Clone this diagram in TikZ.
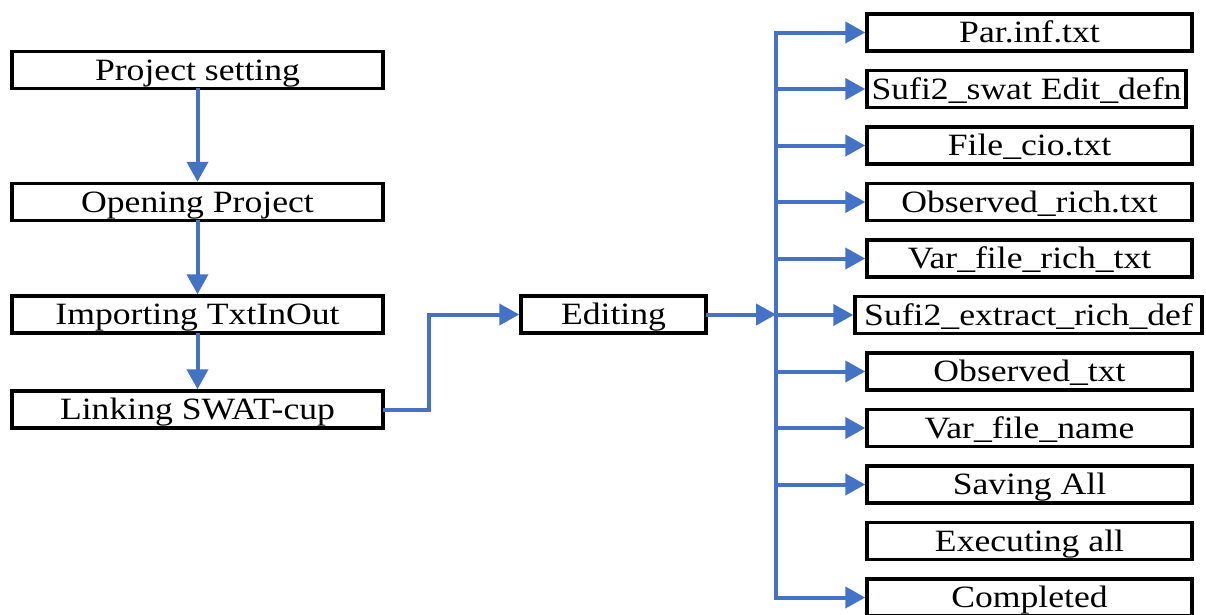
\documentclass[tikz,border=0pt]{standalone}
\usepackage{fontspec}
\setmainfont{Liberation Serif}[FakeStretch=1.15]
\usetikzlibrary{arrows.meta}
\definecolor{flowblue}{RGB}{68,114,196}
\begin{document}
\begin{tikzpicture}[x=1pt,y=-1pt,
  box/.style={draw=black,line width=3.5pt,fill=white,inner sep=0pt,minimum height=37pt,
    text height=24pt,text depth=4pt,
    font=\fontsize{31}{36}\selectfont},
  conn/.style={draw=flowblue,line width=4pt,line cap=rect},
  arr/.style={conn,-{Triangle[length=20pt,width=21pt]}}]
\useasboundingbox (0,0) rectangle (1206,614);
% left column
\node[box,minimum width=371pt] (ps) at (197.5,70) {Project setting};
\node[box,minimum width=371pt] (op) at (197.5,202) {Opening Project};
\node[box,minimum width=371pt] (im) at (197.5,314.5) {Importing TxtInOut};
\node[box,minimum width=371pt] (ln) at (197.5,409.5) {Linking SWAT-cup};
% editing
\node[box,minimum width=185pt] (ed) at (613.5,314.5) {Editing};
% right column
\node[box,minimum width=325pt] (r1) at (1029.5,32.5) {Par.inf.txt};
\node[box,minimum width=319pt] (r2) at (1026.5,89) {Sufi2\_swat Edit\_defn};
\node[box,minimum width=325pt] (r3) at (1029.5,145.5) {File\_cio.txt};
\node[box,minimum width=325pt] (r4) at (1029.5,202) {Observed\_rich.txt};
\node[box,minimum width=325pt] (r5) at (1029.5,258.5) {Var\_file\_rich\_txt};
\node[box,minimum width=347pt] (r6) at (1028.5,315) {Sufi2\_extract\_rich\_def};
\node[box,minimum width=325pt] (r7) at (1029.5,371.5) {Observed\_txt};
\node[box,minimum width=325pt] (r8) at (1029.5,428) {Var\_file\_name};
\node[box,minimum width=325pt] (r9) at (1029.5,484.5) {Saving All};
\node[box,minimum width=325pt] (r10) at (1029.5,541) {Executing all};
\node[box,minimum width=325pt] (r11) at (1029.5,597.5) {Completed};
% left arrows
\draw[arr] (ps.south) -- (op.north);
\draw[arr] (op.south) -- (im.north);
\draw[arr] (im.south) -- (ln.north);
\coordinate (bend) at (429,409.5);
\draw[arr] (ln.east) -- (bend) -- (bend |- ed.west) -- (ed.west);
% trunk
\coordinate (vt) at (776,32.5);
\coordinate (vb) at (776,597.5);
\draw[conn] (vt) -- (vb);
\draw[arr] (ed.east) -- (vt |- ed.east);
\foreach \n in {r1,r2,r3,r4,r5,r6,r7,r8,r9,r11}
  \draw[arr] (vt |- \n.west) -- (\n.west);
\end{tikzpicture}
\end{document}
